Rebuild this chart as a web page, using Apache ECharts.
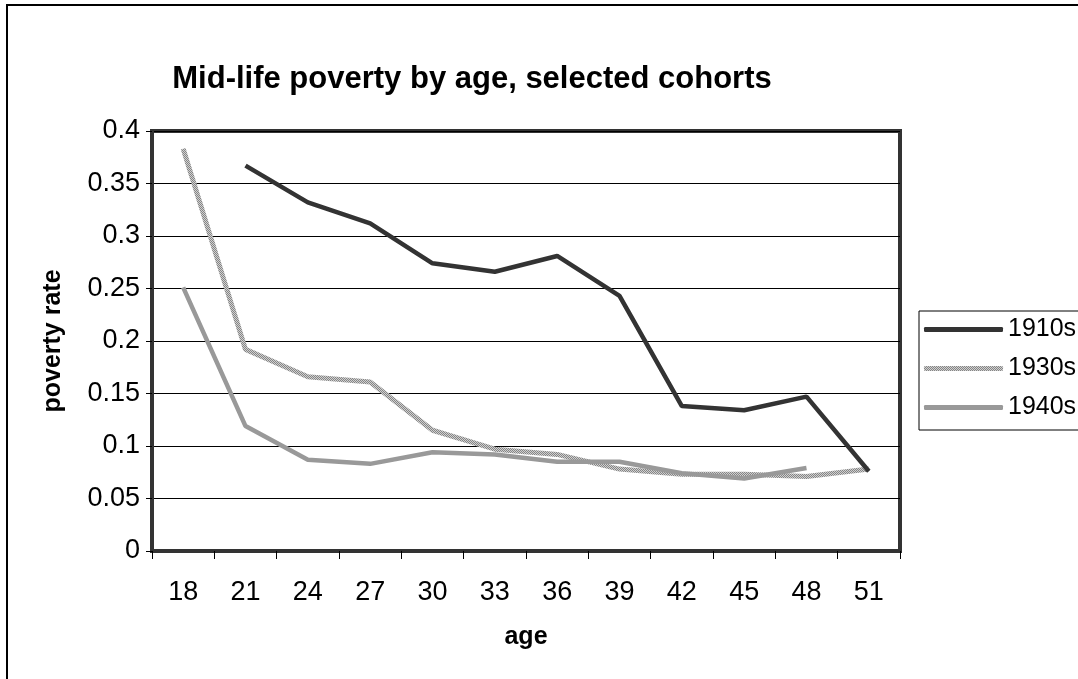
<!DOCTYPE html>
<html>
<head>
<meta charset="utf-8">
<script src="https://cdn.jsdelivr.net/npm/echarts@6/dist/echarts.min.js"></script>
<style>
  html, body { margin: 0; padding: 0; background: #fff; }
  #chart { width: 1078px; height: 679px; }
</style>
</head>
<body>
<div id="chart"></div>
<script>
// Ages (x-axis categories)
const ages = ['18', '21', '24', '27', '30', '33', '36', '39', '42', '45', '48', '51'];

// Poverty rate by cohort
const cohort1910s = [null, 0.367, 0.332, 0.312, 0.274, 0.266, 0.281, 0.243, 0.138, 0.134, 0.147, 0.076];
const cohort1930s = [0.383, 0.192, 0.166, 0.161, 0.115, 0.097, 0.092, 0.078, 0.073, 0.073, 0.071, 0.078];
const cohort1940s = [0.251, 0.119, 0.087, 0.083, 0.094, 0.092, 0.085, 0.085, 0.074, 0.069, 0.079, null];

const cohortNames = ['1910s', '1930s', '1940s'];

// Fine checkered texture for the 1930s line
function makeTexture() {
  const c = document.createElement('canvas');
  c.width = 2; c.height = 2;
  const g = c.getContext('2d');
  g.fillStyle = '#d0d0d0';
  g.fillRect(0, 0, 2, 2);
  g.fillStyle = '#858585';
  g.fillRect(0, 0, 1, 1);
  g.fillRect(1, 1, 1, 1);
  return { image: c, repeat: 'repeat' };
}
const texture = makeTexture();

const FONT = 'Liberation Sans, Arial, sans-serif';

const chart = echarts.init(document.getElementById('chart'), null, { renderer: 'canvas' });

chart.setOption({
  backgroundColor: '#fff',
  animation: false,
  title: {
    text: 'Mid-life poverty by age, selected cohorts',
    left: 467,
    textAlign: 'center',
    top: 59,
    textStyle: { fontFamily: FONT, fontSize: 31, fontWeight: 'bold', color: '#000' }
  },
  graphic: [{
    type: 'rect',
    shape: { x: 7, y: 5, width: 1200, height: 800 },
    style: { fill: null, stroke: '#000', lineWidth: 2 },
    silent: true,
    z: -1
  }],
  legend: {
    left: 919,
    top: 311,
    orient: 'vertical',
    itemWidth: 79,
    itemHeight: 5,
    itemGap: 14,
    icon: 'roundRect',
    padding: [6, 80, 10, 5],
    borderColor: '#000',
    borderWidth: 1,
    backgroundColor: '#fff',
    textStyle: { fontFamily: FONT, fontSize: 25, color: '#000', padding: [0, 0, 0, 0] },
    data: cohortNames
  },
  grid: {
    left: 152,
    top: 131,
    width: 748,
    height: 420,
    show: true,
    borderColor: '#333',
    borderWidth: 4,
    containLabel: false
  },
  xAxis: {
    type: 'category',
    data: ages,
    boundaryGap: true,
    name: 'age',
    nameLocation: 'middle',
    nameGap: 74,
    nameTextStyle: { fontFamily: FONT, fontSize: 25, fontWeight: 'bold', color: '#000' },
    axisLine: { show: true, lineStyle: { color: '#333', width: 4 } },
    axisTick: { show: true, inside: false, length: 8, lineStyle: { color: '#000', width: 1 } },
    axisLabel: { fontFamily: FONT, fontSize: 27, color: '#000', margin: 28 },
    splitLine: { show: false }
  },
  yAxis: {
    type: 'value',
    min: 0,
    max: 0.4,
    interval: 0.05,
    name: 'poverty rate',
    nameLocation: 'middle',
    nameGap: 86,
    nameRotate: 90,
    nameTextStyle: { fontFamily: FONT, fontSize: 25, fontWeight: 'bold', color: '#000' },
    axisLine: { show: true, lineStyle: { color: '#333', width: 4 } },
    axisTick: { show: true, inside: false, length: 6, lineStyle: { color: '#000', width: 1 } },
    axisLabel: {
      fontFamily: FONT, fontSize: 27, color: '#000', margin: 12,
      formatter: v => String(parseFloat(v.toFixed(2)))
    },
    splitLine: { show: true, lineStyle: { color: '#000', width: 1 } }
  },
  series: [
    {
      name: '1910s',
      type: 'line',
      data: cohort1910s,
      showSymbol: false,
      symbol: 'none',
      color: '#333333',
      lineStyle: { color: '#333333', width: 4.5 },
      itemStyle: { color: '#333333' },
      z: 3
    },
    {
      name: '1930s',
      type: 'line',
      data: cohort1930s,
      showSymbol: false,
      symbol: 'none',
      color: '#b0b0b0',
      lineStyle: { color: texture, width: 5 },
      itemStyle: { color: texture },
      z: 2
    },
    {
      name: '1940s',
      type: 'line',
      data: cohort1940s,
      showSymbol: false,
      symbol: 'none',
      color: '#999999',
      lineStyle: { color: '#999999', width: 4.5 },
      itemStyle: { color: '#999999' },
      z: 2
    }
  ]
});
</script>
</body>
</html>
